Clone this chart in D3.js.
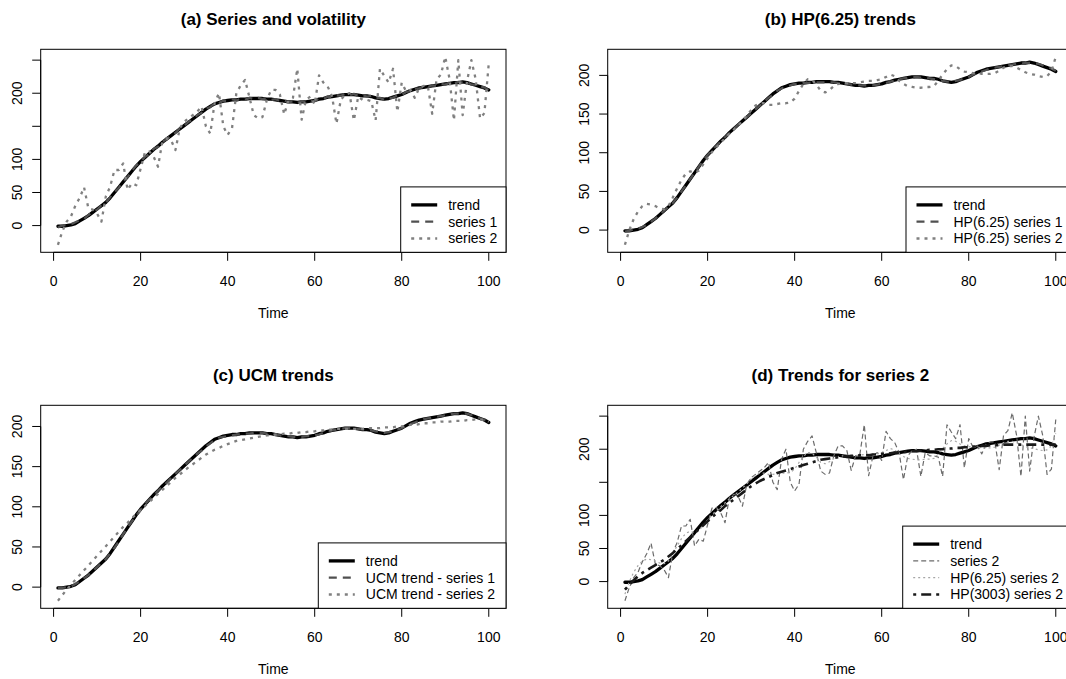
<!DOCTYPE html>
<html>
<head>
<meta charset="utf-8">
<script src="https://cdn.jsdelivr.net/npm/d3@7"></script>
<style>
  body { margin: 0; background: #fff; }
  svg { display: block; }
</style>
</head>
<body>
<svg id="chart" width="1066" height="679"></svg>
<script>
// time index of the simulated series
const timeIndex = d3.range(1, 101);

// true trend
const trend = [-1, -1, 0, 1, 3, 7, 11, 15, 20, 25, 30, 35, 42, 50, 58, 66, 74, 82, 90, 97,
  103, 109, 115, 120, 126, 131, 136, 141, 146, 151, 156, 161, 166, 171, 176, 180, 184, 186, 188, 189,
  190, 190, 191, 191, 192, 192, 192, 192, 191, 191, 190, 189, 188, 187, 187, 186, 187, 187, 188, 189,
  191, 192, 194, 195, 196, 197, 198, 198, 198, 197, 196, 196, 195, 193, 192, 191, 192, 194, 196, 198,
  201, 204, 206, 208, 209, 210, 211, 212, 213, 214, 215, 216, 216, 217, 216, 214, 212, 210, 208, 205];

// series 1 (low volatility)
const series1 = [-3, 0, 1, 2, 5, 8, 10, 16, 21, 24, 31, 34, 43, 51, 57, 67, 73, 83, 91, 96,
  104, 108, 116, 119, 127, 130, 137, 140, 147, 150, 157, 160, 167, 170, 177, 179, 185, 185, 189, 188,
  191, 189, 192, 190, 193, 191, 193, 191, 192, 190, 191, 188, 189, 186, 188, 185, 188, 186, 189, 188,
  192, 191, 195, 194, 197, 196, 199, 197, 199, 196, 197, 195, 196, 192, 193, 190, 193, 193, 197, 197,
  202, 203, 207, 207, 210, 209, 212, 211, 214, 213, 216, 215, 217, 216, 217, 213, 213, 209, 209, 204];

// series 2 (high volatility)
const series2 = [-29, -9, 6, 14, 30, 42, 58, 26, 24, 18, 6, 44, 59, 84, 84, 94, 54, 64, 61, 86,
  111, 112, 104, 89, 127, 132, 129, 114, 147, 157, 162, 167, 172, 180, 150, 139, 185, 200, 150, 137,
  147, 200, 212, 220, 194, 167, 162, 164, 190, 205, 205, 198, 168, 190, 193, 237, 160, 190, 195, 183,
  227, 216, 210, 195, 154, 190, 198, 200, 159, 195, 190, 190, 188, 159, 237, 226, 216, 237, 172, 216,
  203, 205, 193, 208, 211, 211, 169, 221, 228, 255, 221, 159, 250, 167, 218, 250, 221, 162, 170, 245];

// HP filter, lambda = 6.25
const hpSeries1 = [-2, -1, 1, 2, 4, 7, 11, 15, 20, 25, 30, 35, 42, 50, 58, 66, 74, 82, 90, 97,
  103, 109, 114, 120, 125, 131, 136, 141, 146, 151, 156, 161, 166, 171, 175, 180, 183, 186, 187, 189,
  189, 190, 190, 191, 191, 191, 191, 191, 191, 190, 190, 189, 188, 188, 187, 187, 187, 187, 188, 189,
  190, 192, 193, 195, 196, 197, 197, 198, 197, 197, 196, 195, 194, 193, 192, 192, 193, 194, 196, 198,
  201, 203, 205, 207, 209, 210, 211, 212, 213, 214, 215, 215, 216, 216, 216, 215, 213, 211, 209, 206];
const hpSeries2 = [-19, 0, 14, 24, 31, 34, 33, 31, 28, 27, 31, 42, 54, 65, 73, 76, 74, 77, 85, 93,
  101, 107, 113, 119, 125, 130, 135, 141, 148, 155, 161, 164, 164, 162, 162, 163, 164, 164, 165, 170,
  180, 189, 195, 194, 188, 180, 178, 181, 186, 189, 190, 190, 190, 190, 191, 192, 193, 193, 194, 195,
  198, 201, 199, 193, 189, 186, 185, 184, 184, 185, 185, 186, 193, 201, 208, 213, 212, 208, 205, 204,
  203, 203, 202, 202, 202, 203, 206, 210, 212, 212, 210, 207, 204, 202, 201, 199, 198, 199, 205, 224];

// UCM smoothed trends
const ucmSeries1 = [-1, -1, 0, 1, 4, 7, 11, 15, 20, 25, 30, 35, 42, 49, 57, 66, 74, 82, 89, 96,
  103, 109, 114, 120, 125, 130, 136, 141, 146, 151, 156, 161, 166, 170, 175, 179, 183, 186, 187, 188,
  189, 190, 190, 191, 191, 192, 192, 192, 191, 191, 190, 189, 188, 188, 187, 187, 187, 188, 188, 189,
  190, 192, 193, 195, 196, 197, 198, 198, 198, 197, 196, 196, 195, 194, 193, 192, 193, 194, 196, 198,
  201, 203, 205, 207, 209, 210, 211, 212, 213, 214, 215, 216, 216, 216, 216, 214, 213, 210, 208, 205];
const ucmSeries2 = [-17, -10, -3, 3, 9, 15, 21, 27, 33, 39, 45, 51, 57, 63, 69, 75, 80, 86, 91, 96,
  101, 106, 111, 116, 121, 126, 131, 136, 140, 145, 149, 153, 157, 161, 165, 168, 171, 173, 176, 178,
  180, 182, 183, 184, 185, 186, 187, 188, 189, 189, 190, 190, 191, 191, 192, 192, 193, 193, 194, 194,
  195, 195, 196, 196, 197, 197, 197, 197, 197, 197, 197, 198, 198, 198, 198, 199, 199, 199, 200, 200,
  201, 202, 202, 203, 204, 204, 205, 205, 206, 206, 206, 207, 207, 207, 208, 208, 209, 209, 208, 206];

// HP filter, lambda = 3003
const hp3003Series2 = [-12, -5, 2, 8, 13, 17, 21, 25, 29, 33, 38, 43, 49, 55, 61, 67, 73, 79, 85, 91,
  97, 103, 108, 114, 119, 124, 129, 134, 139, 144, 148, 152, 155, 158, 161, 164, 166, 168, 170, 172,
  174, 176, 178, 180, 182, 184, 185, 186, 187, 188, 189, 189, 190, 190, 191, 191, 191, 192, 192, 193,
  193, 194, 195, 195, 196, 196, 197, 197, 198, 198, 199, 199, 200, 200, 201, 201, 202, 202, 203, 203,
  204, 204, 205, 205, 206, 206, 206, 207, 207, 207, 207, 207, 207, 207, 207, 207, 207, 207, 207, 207];

const xTicks = [0, 20, 40, 60, 80, 100];
const panelTitles = ['(a) Series and volatility', '(b) HP(6.25) trends', '(c) UCM trends', '(d) Trends for series 2'];

const FONT = '"Liberation Sans", Arial, Helvetica, sans-serif';

const styles = {
  trend:   { stroke: '#000000', width: 3.3, dash: null },
  dashed:  { stroke: '#505050', width: 2.3, dash: '8,6' },
  dotted:  { stroke: '#808080', width: 2.3, dash: '3,5' },
  thinDash:{ stroke: '#6b6b6b', width: 1.2, dash: '5,3' },
  thinDot: { stroke: '#a6a6a6', width: 1.2, dash: '2,3' },
  dotDash: { stroke: '#1a1a1a', width: 2.6, dash: '3,5,10,5' }
};

const panels = [
  { title: panelTitles[0], ox: 0, oy: 0, legendLeft: 400.7, lines: [
    { label: 'trend', values: trend, style: styles.trend },
    { label: 'series 1', values: series1, style: styles.dashed },
    { label: 'series 2', values: series2, style: styles.dotted }] },
  { title: panelTitles[1], ox: 567, oy: 0, legendLeft: 339, lines: [
    { label: 'trend', values: trend, style: styles.trend },
    { label: 'HP(6.25) series 1', values: hpSeries1, style: styles.dashed },
    { label: 'HP(6.25) series 2', values: hpSeries2, style: styles.dotted }] },
  { title: panelTitles[2], ox: 0, oy: 356, legendLeft: 318.3, lines: [
    { label: 'trend', values: trend, style: styles.trend },
    { label: 'UCM trend - series 1', values: ucmSeries1, style: styles.dashed },
    { label: 'UCM trend - series 2', values: ucmSeries2, style: styles.dotted }] },
  { title: panelTitles[3], ox: 567, oy: 356, legendLeft: 335.7, lines: [
    { label: 'trend', values: trend, style: styles.trend },
    { label: 'series 2', values: series2, style: styles.thinDash },
    { label: 'HP(6.25) series 2', values: hpSeries2, style: styles.thinDot },
    { label: 'HP(3003) series 2', values: hp3003Series2, style: styles.dotDash }] }
];

// plot region inside each panel
const box = { left: 40.7, right: 506, top: 49.3, bottom: 252.3 };
const rowH = 16.8;

// R style 4% axis extension
function padRange(ext) {
  const d = (ext[1] - ext[0]) * 0.04;
  return [ext[0] - d, ext[1] + d];
}

const svg = d3.select('#chart');

panels.forEach((p, pi) => {
  const g = svg.append('g').attr('transform', `translate(${p.ox},${p.oy})`);

  const x = d3.scaleLinear()
    .domain(padRange(d3.extent(timeIndex)))
    .range([box.left, box.right]);
  const y = d3.scaleLinear()
    .domain(padRange(d3.extent(p.lines.flatMap(l => l.values))))
    .range([box.bottom, box.top]);

  g.append('clipPath').attr('id', 'clip' + pi)
    .append('rect')
    .attr('x', box.left).attr('y', box.top)
    .attr('width', box.right - box.left).attr('height', box.bottom - box.top);

  const line = d3.line()
    .x((d, i) => x(timeIndex[i]))
    .y(d => y(d));

  const plotArea = g.append('g').attr('clip-path', `url(#clip${pi})`);
  p.lines.forEach(l => {
    plotArea.append('path')
      .attr('d', line(l.values))
      .attr('fill', 'none')
      .attr('stroke', l.style.stroke)
      .attr('stroke-width', l.style.width)
      .attr('stroke-dasharray', l.style.dash)
      .attr('stroke-linejoin', 'round')
      .attr('stroke-linecap', l.style.dash ? 'butt' : 'round');
  });

  // frame
  g.append('rect')
    .attr('x', box.left).attr('y', box.top)
    .attr('width', box.right - box.left).attr('height', box.bottom - box.top)
    .attr('fill', 'none').attr('stroke', '#000').attr('stroke-width', 1);

  // x axis
  const xAxis = g.append('g')
    .attr('transform', `translate(0,${box.bottom})`)
    .call(d3.axisBottom(x).tickValues(xTicks).tickSize(8.5).tickPadding(15.5).tickSizeOuter(0).offset(0));
  xAxis.select('.domain').attr('d', `M${x(xTicks[0])},0H${x(xTicks[xTicks.length - 1])}`);
  xAxis.attr('font-family', FONT).attr('font-size', 14);
  xAxis.selectAll('text').attr('fill', '#000');

  // y axis, labels parallel to the axis, skipped when they would overlap
  const yTicks = y.ticks(5);
  const yAxis = g.append('g')
    .attr('transform', `translate(${box.left},0)`)
    .call(d3.axisLeft(y).tickValues(yTicks).tickSize(8.5).tickSizeOuter(0).offset(0));
  yAxis.select('.domain').attr('d', `M0,${y(yTicks[0])}V${y(yTicks[yTicks.length - 1])}`);
  yAxis.selectAll('text').remove();

  const gap = 11.7;
  let lastUpper = Infinity;
  yTicks.forEach(v => {
    const t = g.append('text')
      .attr('transform', `translate(${box.left - 18.5},${y(v)}) rotate(-90)`)
      .attr('text-anchor', 'middle')
      .attr('font-family', FONT).attr('font-size', 14)
      .text(v);
    const w = t.node().getComputedTextLength();
    if (y(v) + w / 2 + gap > lastUpper) {
      t.remove();
    } else {
      lastUpper = y(v) - w / 2;
    }
  });

  // titles
  g.append('text')
    .attr('x', (box.left + box.right) / 2).attr('y', 24.5)
    .attr('text-anchor', 'middle')
    .attr('font-family', FONT).attr('font-size', 17).attr('font-weight', 'bold')
    .text(p.title);
  g.append('text')
    .attr('x', (box.left + box.right) / 2).attr('y', box.bottom + 66)
    .attr('text-anchor', 'middle')
    .attr('font-family', FONT).attr('font-size', 14)
    .text('Time');

  // legend, bottom right
  const n = p.lines.length;
  const lgTop = box.bottom - (n * rowH + 15);
  const lg = g.append('g');
  lg.append('rect')
    .attr('x', p.legendLeft).attr('y', lgTop)
    .attr('width', box.right - p.legendLeft).attr('height', box.bottom - lgTop)
    .attr('fill', '#fff').attr('stroke', '#000').attr('stroke-width', 1);
  p.lines.forEach((l, i) => {
    const ry = lgTop + 18 + i * rowH;
    lg.append('line')
      .attr('x1', p.legendLeft + 10.5).attr('x2', p.legendLeft + 36.5)
      .attr('y1', ry).attr('y2', ry)
      .attr('stroke', l.style.stroke)
      .attr('stroke-width', l.style.width)
      .attr('stroke-dasharray', l.style.dash);
    lg.append('text')
      .attr('x', p.legendLeft + 47.5).attr('y', ry)
      .attr('dy', '0.35em')
      .attr('font-family', FONT).attr('font-size', 14)
      .text(l.label);
  });
});
</script>
</body>
</html>
